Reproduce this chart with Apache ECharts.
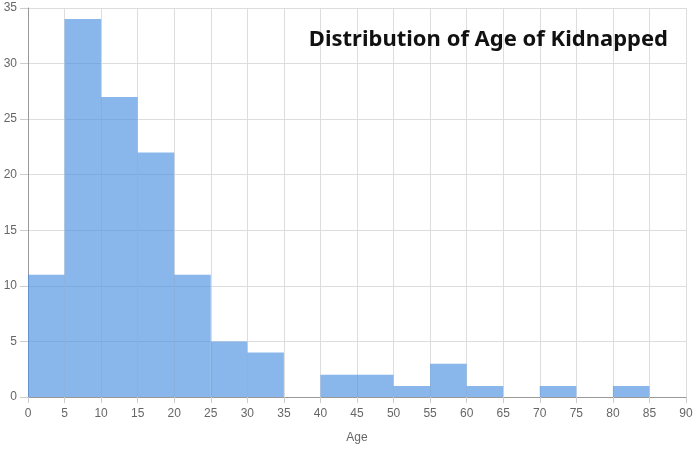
<!DOCTYPE html>
<html>
<head>
    <meta charset="utf-8">
    <title>Distribution of Age of Kidnapped</title>
    <script src="https://cdn.jsdelivr.net/npm/echarts@6/dist/echarts.min.js"></script>
    <style>
        html, body { margin: 0; padding: 0; background: #fff; height: 100%; overflow: hidden; }
    </style>
</head>
<body>
    <div id="ageView" style="width: 100vw;height: 100vh;"></div>
</body>

<script>
    // histogram bins (age, width 5) and counts
    var binStarts = [0, 5, 10, 15, 20, 25, 30, 35, 40, 45, 50, 55, 60, 65, 70, 75, 80, 85];
    var binWidth = 5;
    var counts = [11, 34, 27, 22, 11, 5, 4, 0, 2, 2, 1, 3, 1, 0, 1, 0, 1, 0];

    var histData = binStarts.map(function (s, i) {
        return [s, s + binWidth, counts[i]];
    });

    var axisText = { color: '#666', fontSize: 12, fontFamily: 'Arial, "Liberation Sans", sans-serif' };

    var ageOption = {
        animation: false,
        title: {
            text: 'Distribution of Age of Kidnapped',
            right: 23,
            top: 24,
            textStyle: {
                fontFamily: 'Noto Sans',
                fontWeight: 'bold',
                fontSize: 22,
                color: '#111'
            }
        },
        grid: {
            left: 28,
            right: 10,
            top: 8,
            bottom: 48
        },
        xAxis: {
            type: 'value',
            min: 0,
            max: 90,
            interval: 5,
            name: 'Age',
            nameLocation: 'middle',
            nameGap: 35,
            nameTextStyle: axisText,
            axisLine: { lineStyle: { color: '#999' } },
            axisTick: { show: true, length: 6, lineStyle: { color: '#ccc' } },
            axisLabel: Object.assign({ margin: 11 }, axisText),
            splitLine: { show: true, lineStyle: { color: '#ddd' } }
        },
        yAxis: {
            type: 'value',
            min: 0,
            max: 35,
            interval: 5,
            axisLine: { show: true, lineStyle: { color: '#999' } },
            axisTick: { show: true, length: 8, lineStyle: { color: '#ccc' } },
            axisLabel: Object.assign({ margin: 11 }, axisText),
            splitLine: { show: true, lineStyle: { color: '#ddd' } }
        },
        series: [{
            type: 'custom',
            renderItem: function (params, api) {
                var p0 = api.coord([api.value(0), api.value(2)]);
                var p1 = api.coord([api.value(1), 0]);
                return {
                    type: 'rect',
                    shape: { x: p0[0], y: p0[1], width: p1[0] - p0[0], height: p1[1] - p0[1] },
                    style: { fill: '#4a90e2', opacity: 0.65 }
                };
            },
            encode: { x: [0, 1], y: 2 },
            data: histData
        }]
    };

    var ageChart = echarts.init(document.getElementById('ageView'));
    ageChart.setOption(ageOption);
</script>
</html>
